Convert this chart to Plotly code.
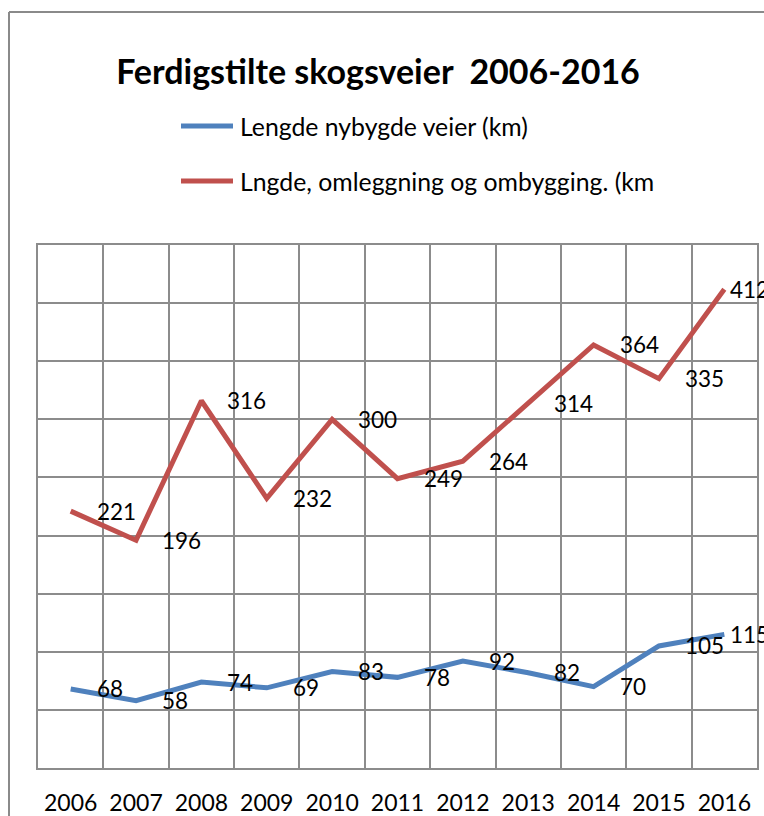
import plotly.graph_objects as go

# Data
years = ["2006", "2007", "2008", "2009", "2010", "2011",
         "2012", "2013", "2014", "2015", "2016"]
new_roads = [68, 58, 74, 69, 83, 78, 92, 82, 70, 105, 115]
rebuilt_roads = [221, 196, 316, 232, 300, 249, 264, 314, 364, 335, 412]
series_names = ["Lengde nybygde veier (km)", "Lngde, omleggning og ombygging. (km"]

BLUE = "#4F81BD"
RED = "#C0504D"
GRID = "#8c8c8c"
FONT = "Lato, Carlito, Calibri, sans-serif"

W, H = 764, 816
L, R, T, B = 38, 7, 245, 48
PW, PH = W - L - R, H - T - B


def px_x(px):
    return (px - L) / PW


def px_y(py):
    return (H - B - py) / PH


fig = go.Figure()
fig.add_trace(go.Scatter(x=years, y=new_roads, mode="lines", name=series_names[0],
                         line=dict(color=BLUE, width=5), showlegend=False))
fig.add_trace(go.Scatter(x=years, y=rebuilt_roads, mode="lines", name=series_names[1],
                         line=dict(color=RED, width=5), showlegend=False))

# value labels placed to the right of each point (x given as category index)
annotations = []
for values in (new_roads, rebuilt_roads):
    for i, v in enumerate(values):
        annotations.append(dict(
            x=i, y=v, xref="x", yref="y", text=str(v), showarrow=False,
            xanchor="left", yanchor="middle",
            xshift=4 if i == len(years) - 1 else 24,
            font=dict(family=FONT, size=22.5, color="#000000")))

# legend drawn as line samples with labels
shapes = []
for name, color, py in ((series_names[0], BLUE, 126), (series_names[1], RED, 181)):
    shapes.append(dict(type="line", xref="paper", yref="paper",
                       x0=px_x(181), x1=px_x(233), y0=px_y(py), y1=px_y(py),
                       line=dict(color=color, width=5)))
    annotations.append(dict(x=px_x(238), y=px_y(py), xref="paper", yref="paper",
                            text=name, showarrow=False, xanchor="left", yanchor="middle",
                            font=dict(family=FONT, size=24.8, color="#000000")))

# outer chart-area border (left and top edges)
border = dict(color="#8a8a8a", width=2)
shapes.append(dict(type="line", xref="paper", yref="paper", layer="below",
                   x0=px_x(9), x1=px_x(9), y0=px_y(H + 5), y1=px_y(12), line=border))
shapes.append(dict(type="line", xref="paper", yref="paper", layer="below",
                   x0=px_x(9), x1=px_x(W + 5), y0=px_y(12), y1=px_y(12), line=border))

fig.update_layout(
    width=W, height=H,
    margin=dict(l=L, r=R, t=T, b=B),
    paper_bgcolor="white", plot_bgcolor="white",
    title=dict(text="Ferdigstilte skogsveier\u00a0\u00a02006-2016",
               x=378 / W, xanchor="center", y=1 - 72 / H, yanchor="middle",
               font=dict(family=FONT, size=34, color="#000000", weight="bold")),
    xaxis=dict(type="category", range=[-0.5, 10.5], tickson="boundaries",
               showgrid=True, gridcolor=GRID, gridwidth=2,
               showline=True, linecolor=GRID, linewidth=2, mirror=True,
               ticks="", ticklabelstandoff=13, automargin=False,
               tickfont=dict(family=FONT, size=23, color="#000000")),
    yaxis=dict(range=[0, 450], dtick=50, showgrid=True, gridcolor=GRID, gridwidth=2,
               showline=True, linecolor=GRID, linewidth=2, mirror=True,
               showticklabels=False, ticks="", zeroline=False, automargin=False),
    annotations=annotations,
    shapes=shapes,
    showlegend=False,
)

# keep the page at exactly the figure size (no scrollbars)
page_css = "document.body.style.margin='0';document.body.style.overflow='hidden';"
fig.write_html("out.html", config={"displayModeBar": False}, post_script=page_css)
